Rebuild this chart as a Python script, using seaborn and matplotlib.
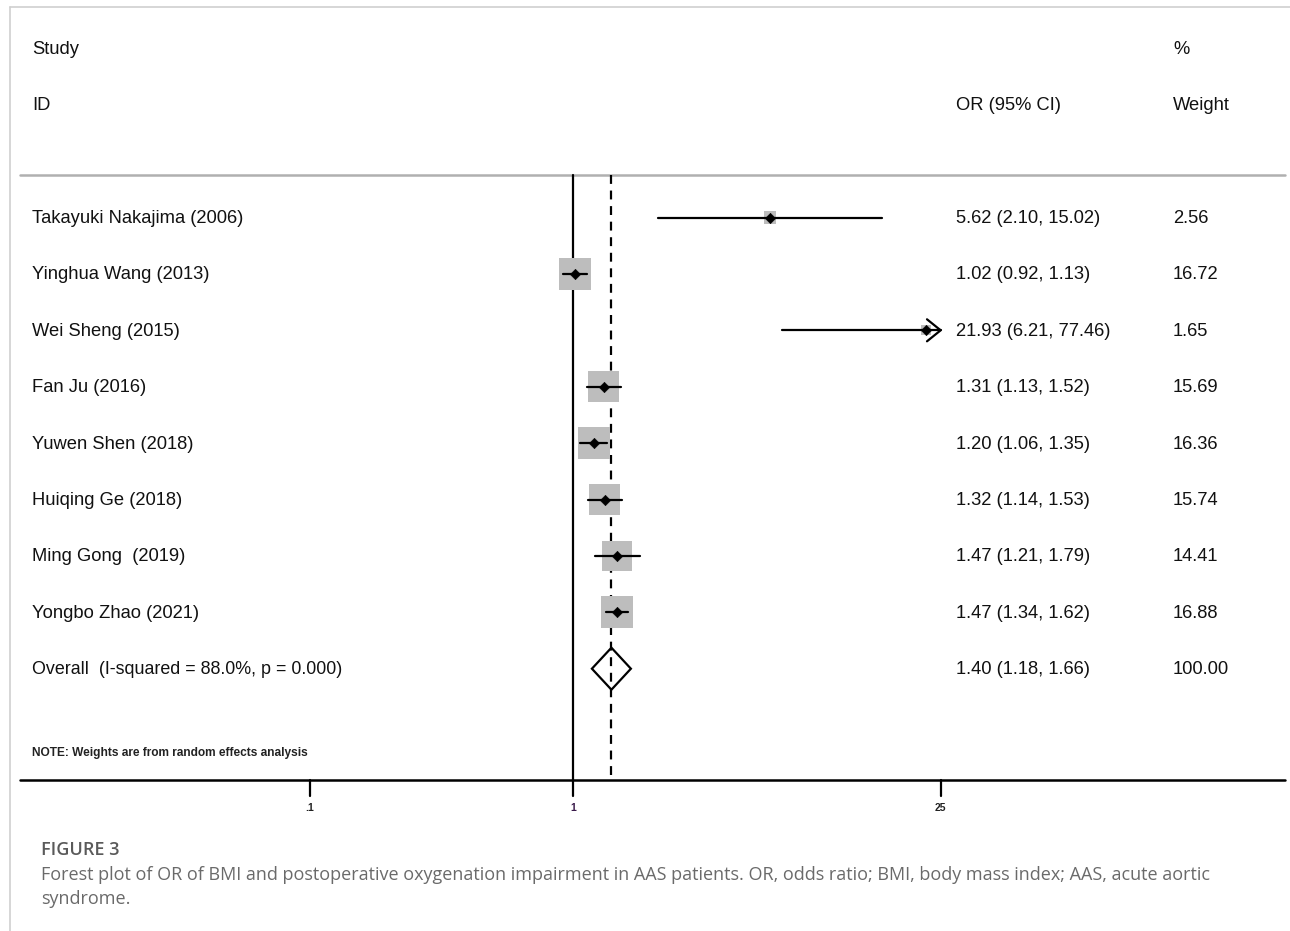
import numpy as np
import pandas as pd
import matplotlib
matplotlib.use("Agg")
import matplotlib.pyplot as plt
import seaborn as sns
from matplotlib.patches import Polygon

sns.set_theme(style="white")
plt.rcParams['font.family'] = ['Liberation Sans', 'DejaVu Sans']
plt.rcParams['text.color'] = 'black'

# ---- data ----
studies = ["Takayuki Nakajima (2006)", "Yinghua Wang (2013)", "Wei Sheng (2015)",
           "Fan Ju (2016)", "Yuwen Shen (2018)", "Huiqing Ge (2018)",
           "Ming Gong  (2019)", "Yongbo Zhao (2021)"]
or_est = [5.62, 1.02, 21.93, 1.31, 1.20, 1.32, 1.47, 1.47]
ci_low = [2.10, 0.92, 6.21, 1.13, 1.06, 1.14, 1.21, 1.34]
ci_high = [15.02, 1.13, 77.46, 1.52, 1.35, 1.53, 1.79, 1.62]
weights = [2.56, 16.72, 1.65, 15.69, 16.36, 15.74, 14.41, 16.88]
overall_label = "Overall  (I-squared = 88.0%, p = 0.000)"
overall_est, overall_low, overall_high, overall_w = 1.40, 1.18, 1.66, 100.00
tick_vals = [0.1, 1, 25]
tick_labels = [".1", "1", "25"]

df = pd.DataFrame({"study": studies, "or": or_est, "lo": ci_low, "hi": ci_high, "w": weights})
df["row"] = np.arange(len(df))

W, H = 1290, 931
fig = plt.figure(figsize=(W / 100, H / 100), dpi=100)
ax = fig.add_axes([0, 0, 1, 1])
ax.set_xscale("log")
# pixel mapping: x_px = 573 + 263*log10(v)
xmin = 10 ** (-573 / 263)
xmax = 10 ** ((W - 573) / 263)
ax.set_xlim(xmin, xmax)
ax.set_ylim(H, 0)
ax.axis("off")

row_y0, row_dy = 217.5, 56.4
df["y"] = row_y0 + df["row"] * row_dy
y_over = row_y0 + len(df) * row_dy

def px2x(px):
    return 10 ** ((px - 573) / 263)

clip_hi = 25
x_left, x_right = px2x(20), px2x(1285)

# frame border
ax.plot([px2x(9.5), px2x(9.5)], [H, 7], color="#cfcfcf", lw=1.2)
ax.plot([px2x(9.5), x_right + 100], [7, 7], color="#cfcfcf", lw=1.2)

# header separator
ax.plot([x_left, x_right], [175, 175], color="#b0b0b0", lw=1.8)
# axis line
ax.plot([x_left, x_right], [780, 780], color="black", lw=1.8)
for tv, tl in zip(tick_vals, tick_labels):
    ax.plot([tv, tv], [780, 796], color="black", lw=1.6)
    ax.text(tv, 808, tl, ha="center", va="center", fontsize=7.5, fontweight="bold",
            color="#3a1a4a" if tl == "1" else "#222222")

# null line and overall dashed line
ax.plot([1, 1], [175, 780], color="black", lw=1.6)
ax.plot([overall_est, overall_est], [175, 780], color="black", lw=1.6, ls=(0, (4, 3)))

# weighted boxes
box_s = df["w"] * 31.8
ax.scatter(df["or"], df["y"], s=box_s, marker="s", color="#bdbdbd", edgecolor="none", zorder=3)

# CI lines (clipped at 25 with arrow)
for _, r in df.iterrows():
    hi = min(r["hi"], clip_hi)
    ax.plot([r["lo"], hi], [r["y"], r["y"]], color="black", lw=1.6, zorder=4)
    if r["hi"] > clip_hi:
        ax.plot([px2x(941 - 14), hi, px2x(941 - 14)], [r["y"] - 11, r["y"], r["y"] + 11],
                color="black", lw=1.6, zorder=4)

sns.scatterplot(data=df, x="or", y="y", marker="D", s=28, color="black",
                edgecolor="black", ax=ax, zorder=5, legend=False)
ax.set_xlabel("")
ax.set_ylabel("")
ax.axis("off")

# overall diamond
dh = 21
diamond = Polygon([[overall_low, y_over], [overall_est, y_over - dh],
                   [overall_high, y_over], [overall_est, y_over + dh]],
                  closed=True, fill=False, edgecolor="black", lw=1.6, zorder=5)
ax.add_patch(diamond)

# texts
tfs = 13.2
tc = "#111111"
ax.text(px2x(32), 49, "Study", fontsize=tfs, va="center", ha="left", color=tc)
ax.text(px2x(32), 106, "ID", fontsize=tfs, va="center", ha="left", color=tc)
ax.text(px2x(956), 106, "OR (95% CI)", fontsize=tfs, va="center", ha="left", color=tc)
ax.text(px2x(1173), 49, "%", fontsize=tfs, va="center", ha="left", color=tc)
ax.text(px2x(1173), 106, "Weight", fontsize=tfs, va="center", ha="left", color=tc)

for _, r in df.iterrows():
    ax.text(px2x(32), r["y"] + 1, r["study"], fontsize=tfs, va="center", ha="left", color=tc)
    ax.text(px2x(956), r["y"] + 1, f"{r['or']:.2f} ({r['lo']:.2f}, {r['hi']:.2f})",
            fontsize=tfs, va="center", ha="left", color=tc)
    ax.text(px2x(1173), r["y"] + 1, f"{r['w']:.2f}", fontsize=tfs, va="center", ha="left", color=tc)

ax.text(px2x(32), y_over + 1, overall_label, fontsize=12.9, va="center", ha="left", color=tc)
ax.text(px2x(956), y_over + 1, f"{overall_est:.2f} ({overall_low:.2f}, {overall_high:.2f})",
        fontsize=tfs, va="center", ha="left", color=tc)
ax.text(px2x(1173), y_over + 1, f"{overall_w:.2f}", fontsize=tfs, va="center", ha="left", color=tc)

ax.text(px2x(32), 753, "NOTE: Weights are from random effects analysis", fontsize=8.6,
        va="center", ha="left", color="#222222", fontweight="bold")

# caption
cap_font = ["Open Sans", "DejaVu Sans"]
fig.text(41 / W, 1 - 850 / H, "FIGURE 3", fontsize=13, family=cap_font, fontweight="semibold",
         color="#5a5a5a", va="center", ha="left")
fig.text(41 / W, 1 - 875 / H,
         "Forest plot of OR of BMI and postoperative oxygenation impairment in AAS patients. OR, odds ratio; BMI, body mass index; AAS, acute aortic",
         fontsize=13, family=cap_font, color="#6a6a6a", va="center", ha="left")
fig.text(41 / W, 1 - 899 / H, "syndrome.", fontsize=13, family=cap_font,
         color="#6a6a6a", va="center", ha="left")

fig.savefig("out.png", dpi=100)
